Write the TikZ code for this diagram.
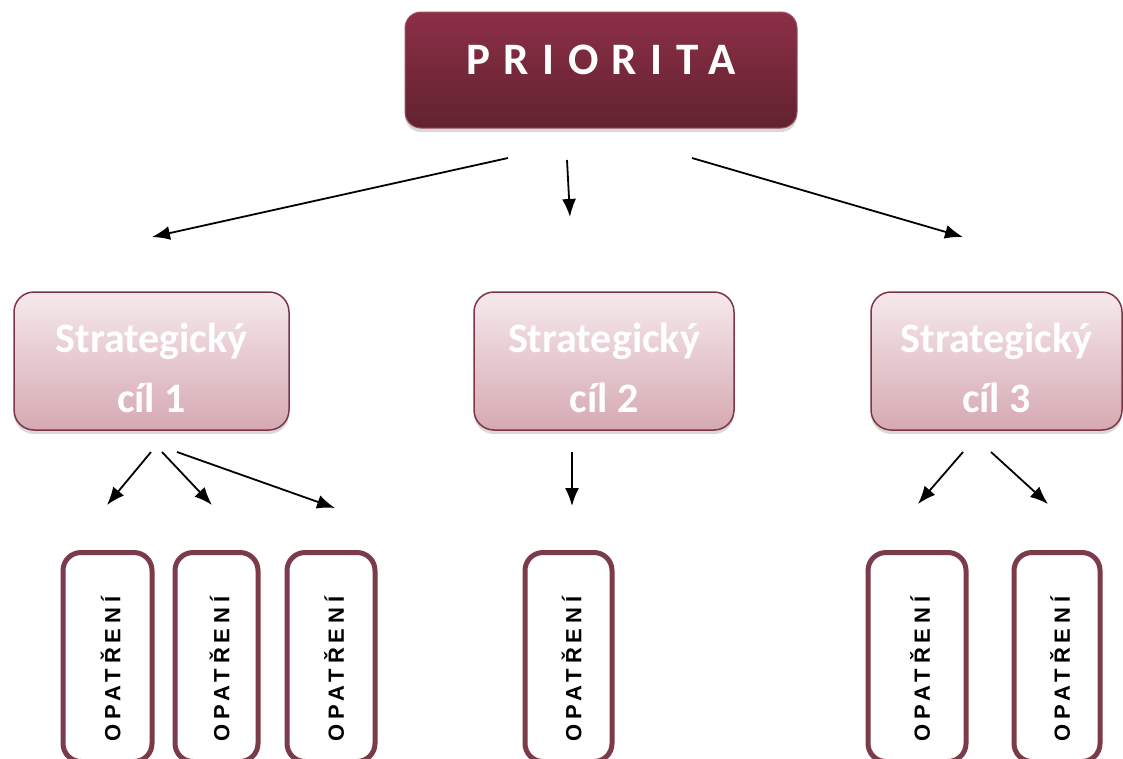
\documentclass[tikz,border=0pt]{standalone}
\usepackage{fontspec}
\setmainfont{Carlito}
\newfontfamily\opfont{Liberation Sans}
\usetikzlibrary{arrows.meta,shadows}

\definecolor{prioTop}{HTML}{8B2F48}
\definecolor{prioBot}{HTML}{62222E}
\definecolor{cilTop}{HTML}{F5E9EC}
\definecolor{cilBot}{HTML}{D6A9B2}
\definecolor{cilLine}{HTML}{7E3446}
\definecolor{opLine}{HTML}{7B3B4B}

\tikzset{
  priobox/.style={rounded corners=16pt, top color=prioTop, bottom color=prioBot,
    draw=prioTop!85!white, line width=1pt, minimum width=392pt, minimum height=116pt,
    text=white, text depth=20pt,
    font=\fontsize{45}{50}\selectfont\bfseries\addfontfeature{LetterSpace=30},
    drop shadow={shadow xshift=0pt, shadow yshift=-4pt, opacity=0.3}},
  cilbox/.style={rounded corners=20pt, top color=cilTop, bottom color=cilBot,
    draw=cilLine, line width=1.5pt, minimum height=138pt, align=center,
    text=white, font=\fontsize{42}{60}\selectfont\bfseries,
    drop shadow={shadow xshift=0pt, shadow yshift=-4pt, opacity=0.3}},
  opbox/.style={draw=opLine, line width=5pt, rounded corners=18pt, minimum height=209pt},
  optext/.style={rotate=90, font=\opfont\bfseries\fontsize{22}{26}\selectfont\addfontfeature{LetterSpace=22}},
  arr/.style={-{Latex[length=18pt,width=14pt]}, line width=1.8pt},
}
\newcommand{\cilstrut}{\rule{0pt}{44pt}}

\begin{document}
\begin{tikzpicture}[x=1pt, y=-1pt]
\useasboundingbox (0,0) rectangle (1123,758);

% priorita a strategicke cile
\node[priobox] (prio) at (601,70) {PRIORITA};
\node[cilbox, minimum width=275pt] (cil1) at (151.5,361) {\cilstrut Strategický\\cíl 1};
\node[cilbox, minimum width=260pt] (cil2) at (604,361) {\cilstrut Strategický\\cíl 2};
\node[cilbox, minimum width=251pt] (cil3) at (996.5,361) {\cilstrut Strategický\\cíl 3};

% opatreni
\foreach \n/\x/\w in {1/107.5/89, 2/216.5/83, 3/331/88, 4/568.5/87, 5/917/98, 6/1057/86}{
  \node[opbox, minimum width=\w pt] (op\n) at (\x,657) {};
  \node[optext] (opt\n) at ([xshift=3pt,yshift=-12pt]op\n.center) {OPATŘENÍ};
}

% konce sipek
\coordinate (p1) at (508,158);  \coordinate (q1) at (152,237);
\coordinate (p2) at (567,160);  \coordinate (q2) at (570,217);
\coordinate (p3) at (692,158);  \coordinate (q3) at (963,237);
\coordinate (p4) at (151,452);  \coordinate (q4) at (107,505);
\coordinate (p5) at (162,452);  \coordinate (q5) at (212,505);
\coordinate (p6) at (177,452);  \coordinate (q6) at (335,508);
\coordinate (p7) at (572,452);  \coordinate (q7) at (572,506);
\coordinate (p8) at (963,452);  \coordinate (q8) at (918,504);
\coordinate (p9) at (991,452);  \coordinate (q9) at (1048,504);

\foreach \i in {1,...,9}
  \draw[arr] (p\i) -- (q\i);

\end{tikzpicture}
\end{document}
